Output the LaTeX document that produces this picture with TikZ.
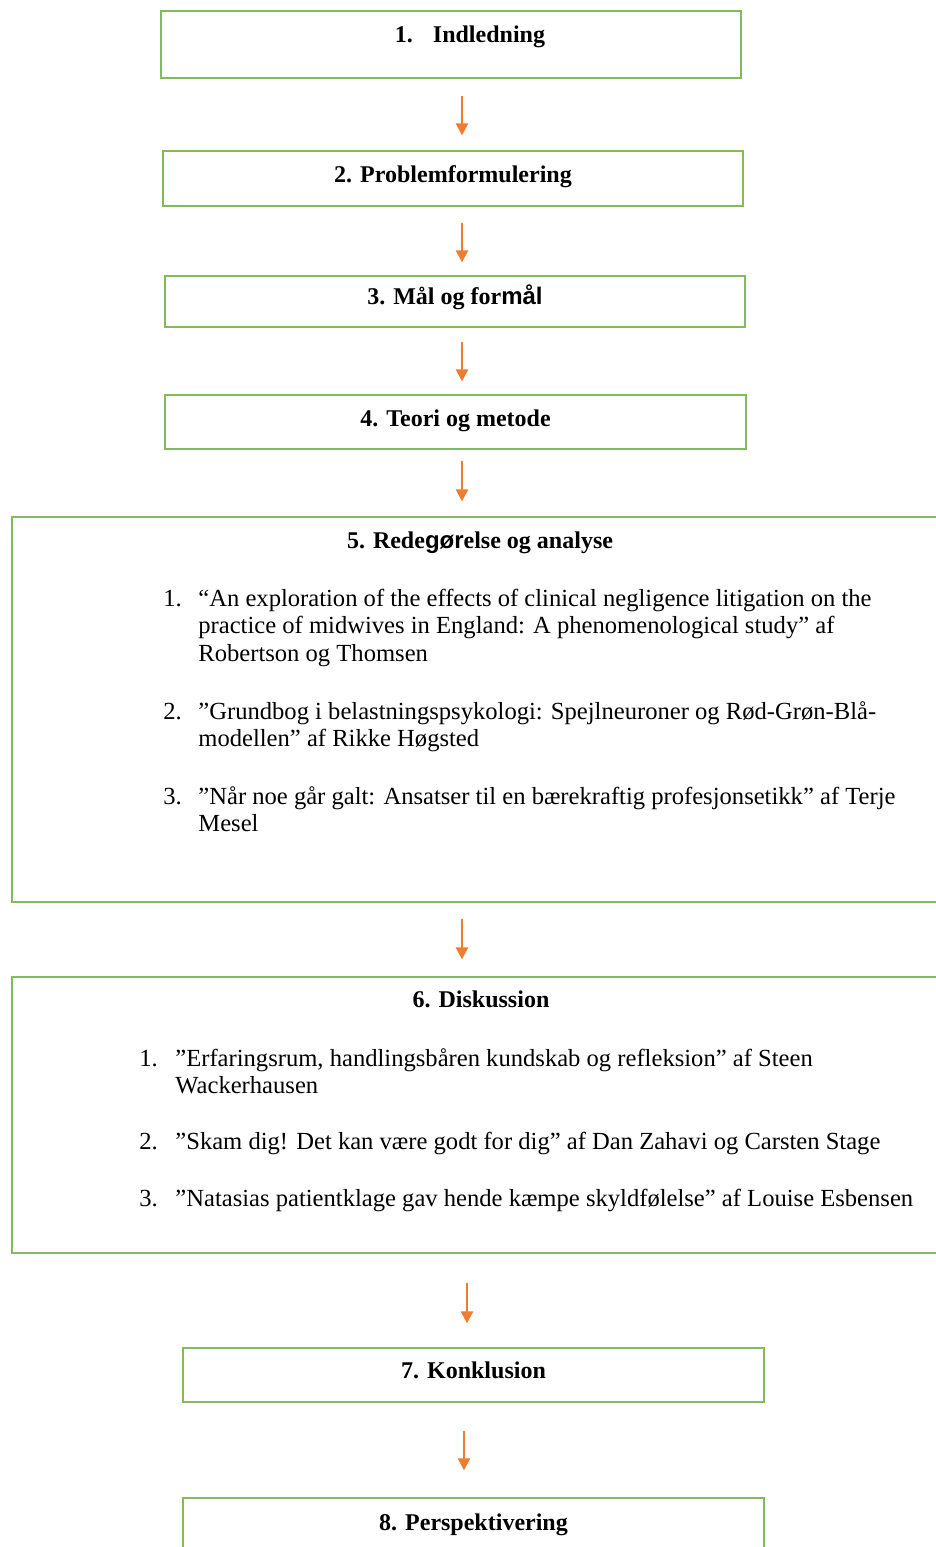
\documentclass[tikz,border=0pt]{standalone}
\usepackage{fontspec}
\setmainfont{Liberation Serif}
\newfontfamily\arialfont{Liberation Sans}
\usetikzlibrary{arrows.meta,positioning}
\definecolor{boxgreen}{RGB}{130,186,92}
\definecolor{pilorange}{RGB}{237,125,49}
\tikzstyle{kasse}=[draw=boxgreen,line width=0.6pt,inner sep=0pt,rectangle]
\tikzstyle{titel}=[font=\fontsize{12pt}{14pt}\selectfont\bfseries,inner sep=0pt,anchor=base]
\tikzstyle{punkt}=[font=\fontsize{12.3pt}{13.75pt}\selectfont,inner sep=0pt,align=left,anchor=base west]
\tikzstyle{pil}=[color=pilorange,line width=1.2pt,-{Triangle[width=6pt,length=6pt]}]

\begin{document}
\begin{tikzpicture}[x=0.5pt,y=-0.5pt]
        \path[use as bounding box,clip] (0,0) rectangle (936,1547);
        % kasser
        \node[kasse,minimum width=290pt,minimum height=33.5pt] (b1) at (451,44.5) {};
        \node[kasse,minimum width=290pt,minimum height=27.5pt] (b2) at (453,178.5) {};
        \node[kasse,minimum width=290pt,minimum height=25.5pt] (b3) at (455,301.5) {};
        \node[kasse,minimum width=290.5pt,minimum height=27pt] (b4) at (455.5,422) {};
        \node[kasse,minimum width=468pt,minimum height=192.5pt] (b5) at (480,709.5) {};
        \node[kasse,minimum width=469pt,minimum height=138pt] (b6) at (481,1115) {};
        \node[kasse,minimum width=290.5pt,minimum height=27pt] (b7) at (473.5,1375) {};
        \node[kasse,minimum width=290.5pt,minimum height=50pt] (b8) at (473.5,1548) {};
        % titler
        \node[titel] (t1) at ([xshift=9.5pt,yshift=-16pt]b1.north) {1.\hspace{10pt}Indledning};
        \node[titel] (t2) at ([yshift=-16pt]b2.north) {2. Problemformulering};
        \node[titel] (t3) at ([yshift=-14.5pt]b3.north) {3. Mål og for{\arialfont\bfseries mål}};
        \node[titel] (t4) at ([yshift=-16pt]b4.north) {4. Teori og metode};
        \node[titel] (t5) at ([yshift=-16pt]b5.north) {5. Rede{\arialfont\bfseries gør}else og analyse};
        \node[titel] (t6) at ([yshift=-15.5pt]b6.north) {6. Diskussion};
        \node[titel] (t7) at ([yshift=-15.5pt]b7.north) {7. Konklusion};
        \node[titel] (t8) at ([yshift=-16.5pt]b8.north) {8. Perspektivering};
        % punkter i 5 (base = sidste linje)
        \node[punkt] (n51) at (163,606) {1.};
        \node[punkt] (p51) at (198,661) {“An exploration of the effects of clinical negligence litigation on the\\practice of midwives in England: A phenomenological study” af\\Robertson og Thomsen};
        \node[punkt] (n52) at (163,719) {2.};
        \node[punkt] (p52) at (198,746.5) {”Grundbog i belastningspsykologi: Spejlneuroner og Rød-Grøn-Blå-\\modellen” af Rikke Høgsted};
        \node[punkt] (n53) at (163,804) {3.};
        \node[punkt] (p53) at (198,831.5) {”Når noe går galt: Ansatser til en bærekraftig profesjonsetikk” af Terje\\Mesel};
        % punkter i 6
        \node[punkt] (n61) at (139,1066) {1.};
        \node[punkt] (p61) at (175,1093.5) {”Erfaringsrum, handlingsbåren kundskab og refleksion” af Steen\\Wackerhausen};
        \node[punkt] (n62) at (139,1149) {2.};
        \node[punkt] (p62) at (175,1149) {”Skam dig! Det kan være godt for dig” af Dan Zahavi og Carsten Stage};
        \node[punkt] (n63) at (139,1206) {3.};
        \node[punkt] (p63) at (175,1206) {”Natasias patientklage gav hende kæmpe skyldfølelse” af Louise Esbensen};
        % pile
        \draw[pil,shorten <=8.5pt,shorten >=7.5pt] ([xshift=5.5pt]b1.south) -- ([xshift=5.5pt]b1.south |- b2.north);
        \draw[pil,shorten <=8pt,shorten >=6.5pt] ([xshift=4.5pt]b2.south) -- ([xshift=4.5pt]b2.south |- b3.north);
        \draw[pil,shorten <=7pt,shorten >=6.5pt] ([xshift=3.5pt]b3.south) -- ([xshift=3.5pt]b3.south |- b4.north);
        \draw[pil,shorten <=5.5pt,shorten >=7.5pt] ([xshift=3.25pt]b4.south) -- ([xshift=3.25pt]b4.south |- b5.north);
        \draw[pil,shorten <=8pt,shorten >=8.5pt] ([xshift=-9pt]b5.south) -- ([xshift=-9pt]b5.south |- b6.north);
        \draw[pil,shorten <=14.5pt,shorten >=12pt] ([xshift=-7pt]b6.south) -- ([xshift=-7pt]b6.south |- b7.north);
        \draw[pil,shorten <=14pt,shorten >=13.5pt] ([xshift=-4.75pt]b7.south) -- ([xshift=-4.75pt]b7.south |- b8.north);
      \end{tikzpicture}
\end{document}
